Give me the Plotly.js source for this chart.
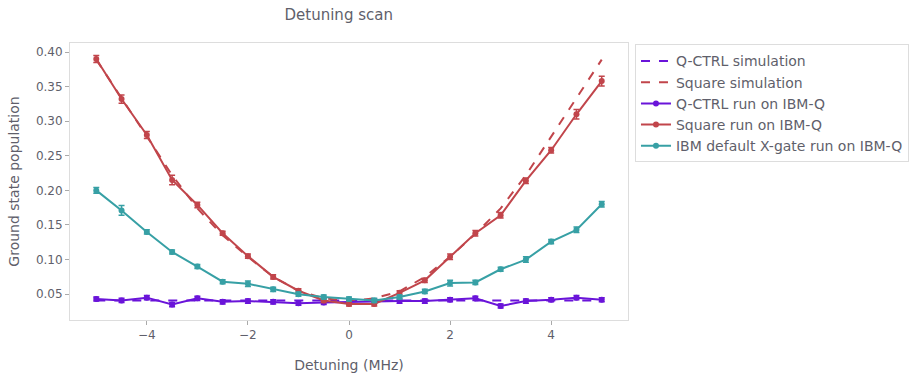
<!DOCTYPE html>
<html>
<head>
<meta charset="utf-8">
<script src="https://cdn.plot.ly/plotly-3.0.1.min.js"></script>
<style>html,body{margin:0;padding:0;background:#fff;}#chart{width:918px;height:376px;}</style>
</head>
<body>
<div id="chart"></div>
<script>
const detuning = [-5,-4.5,-4,-3.5,-3,-2.5,-2,-1.5,-1,-0.5,0,0.5,1,1.5,2,2.5,3,3.5,4,4.5,5];

const qctrlSim = [0.041,0.041,0.041,0.041,0.040,0.040,0.040,0.040,0.040,0.040,0.040,0.040,0.040,0.040,0.040,0.040,0.040,0.041,0.041,0.041,0.041];
const squareSim = [0.389,0.334,0.278,0.222,0.174,0.135,0.104,0.075,0.055,0.044,0.040,0.044,0.054,0.075,0.104,0.137,0.174,0.222,0.278,0.334,0.389];

const qctrlRun = [0.043,0.041,0.045,0.035,0.044,0.039,0.040,0.039,0.037,0.038,0.039,0.040,0.040,0.040,0.042,0.044,0.033,0.040,0.042,0.045,0.042];
const qctrlErr = [0.003,0.003,0.003,0.003,0.003,0.003,0.003,0.003,0.003,0.003,0.003,0.003,0.003,0.003,0.003,0.003,0.003,0.003,0.003,0.003,0.003];

const squareRun = [0.390,0.332,0.280,0.215,0.179,0.138,0.105,0.075,0.055,0.041,0.036,0.036,0.052,0.070,0.104,0.138,0.164,0.214,0.258,0.310,0.358];
const squareErr = [0.005,0.006,0.005,0.007,0.004,0.003,0.003,0.003,0.003,0.003,0.003,0.003,0.003,0.003,0.004,0.004,0.004,0.004,0.004,0.007,0.007];

const ibmRun = [0.200,0.171,0.140,0.111,0.090,0.068,0.065,0.057,0.050,0.046,0.043,0.041,0.046,0.054,0.066,0.067,0.086,0.100,0.126,0.143,0.180];
const ibmErr = [0.004,0.007,0.003,0.003,0.003,0.003,0.004,0.003,0.003,0.003,0.003,0.003,0.003,0.003,0.004,0.003,0.003,0.004,0.003,0.004,0.004];

const names = ["Q-CTRL simulation","Square simulation","Q-CTRL run on IBM-Q","Square run on IBM-Q","IBM default X-gate run on IBM-Q"];
const purple = "#6a14d9", red = "#c1454b", teal = "#37a0a5";

const traces = [
  {x: detuning, y: qctrlSim, name: names[0], mode: "lines", line: {color: purple, width: 2, dash: "dash"}},
  {x: detuning, y: squareSim, name: names[1], mode: "lines", line: {color: red, width: 2, dash: "dash"}},
  {x: detuning, y: qctrlRun, name: names[2], mode: "lines+markers", line: {color: purple, width: 2}, marker: {color: purple, size: 6},
   error_y: {type: "data", array: qctrlErr, color: purple, thickness: 1.5, width: 3}},
  {x: detuning, y: squareRun, name: names[3], mode: "lines+markers", line: {color: red, width: 2}, marker: {color: red, size: 6},
   error_y: {type: "data", array: squareErr, color: red, thickness: 1.5, width: 3}},
  {x: detuning, y: ibmRun, name: names[4], mode: "lines+markers", line: {color: teal, width: 2}, marker: {color: teal, size: 6},
   error_y: {type: "data", array: ibmErr, color: teal, thickness: 1.5, width: 3}}
];

const txt = "#5f5f6b";
const layout = {
  width: 918, height: 376,
  margin: {l: 70, r: 290, t: 43, b: 56, autoexpand: false},
  paper_bgcolor: "#fff", plot_bgcolor: "#fff",
  font: {family: "DejaVu Sans", size: 12, color: txt},
  title: {text: "Detuning scan", x: 0.369, xanchor: "center", y: 0.962, yanchor: "middle", font: {size: 15, color: txt}},
  xaxis: {
    title: {text: "Detuning (MHz)", font: {size: 14, color: txt}, standoff: 18},
    range: [-5.52, 5.52], tickvals: [-4,-2,0,2,4], showgrid: false, zeroline: false,
    showline: true, mirror: true, linecolor: "#dddddd", linewidth: 1,
    ticks: "outside", ticklen: 4, tickcolor: "#aaaaaa", tickfont: {size: 12, color: txt}
  },
  yaxis: {
    title: {text: "Ground state population", font: {size: 14, color: txt}, standoff: 12},
    range: [0.0127, 0.413], tickvals: [0.05,0.10,0.15,0.20,0.25,0.30,0.35,0.40], tickformat: ".2f",
    showgrid: false, zeroline: false,
    showline: true, mirror: true, linecolor: "#dddddd", linewidth: 1,
    ticks: "outside", ticklen: 4, tickcolor: "#aaaaaa", tickfont: {size: 12, color: txt}
  },
  showlegend: true,
  legend: {x: 1.0125, y: 0.995, xanchor: "left", yanchor: "top", bordercolor: "#dddddd", borderwidth: 1,
           font: {size: 14, color: txt}, tracegroupgap: 0, itemwidth: 30, bgcolor: "#fff"}
};

Plotly.newPlot("chart", traces, layout, {displayModeBar: false});
</script>
</body>
</html>
